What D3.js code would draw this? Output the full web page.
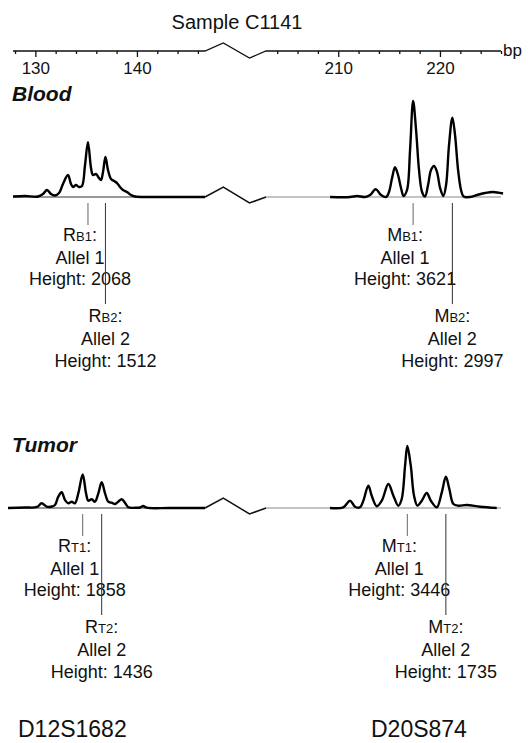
<!DOCTYPE html>
<html>
<head>
<meta charset="utf-8">
<script src="https://cdn.jsdelivr.net/npm/d3@7"></script>
<style>
  body { margin: 0; background: #fff; }
  svg { display: block; }
  text { font-family: "Liberation Sans", Arial, Helvetica, sans-serif; fill: #111; }
</style>
</head>
<body>
<svg id="chart" width="528" height="743"></svg>
<script>
// ---- data -------------------------------------------------------------
const title = "Sample C1141";
const unitLabel = "bp";
const panelNames = ["Blood", "Tumor"];
const locusNames = ["D12S1682", "D20S874"];

// fragment-size axis (bp)
const majorTicks = [130, 140, 210, 220];
const minorTicks = [128, 132, 134, 136, 138, 142, 144, 146,
                    204, 206, 208, 212, 214, 216, 218, 222, 224, 226];

// called alleles: size (bp) and peak height (RFU)
const alleleNames = ["Allel 1", "Allel 2", "Allel 1", "Allel 2"];
const alleleLetters = ["R", "R", "M", "M"];
const bloodTags = ["B1", "B2", "B1", "B2"];
const tumorTags = ["T1", "T2", "T1", "T2"];
const bloodAlleleBp = [135.18, 136.9, 217.36, 221.22];
const bloodAlleleHeight = [2068, 1512, 3621, 2997];
const tumorAlleleBp = [134.66, 136.53, 216.79, 220.58];
const tumorAlleleHeight = [1858, 1436, 3446, 1735];

// electropherogram traces (apex points of called alleles are added from above)
const bloodD12Bp = [127.8, 128.98, 130.26, 130.75, 131.15, 131.54, 131.93, 132.33, 132.72, 133.21,
  133.51, 133.71, 134.0, 134.3, 134.59, 134.89, 135.48, 135.67, 135.97, 136.26, 136.46, 136.66,
  137.15, 137.45, 137.74, 138.04, 138.33, 138.63, 139.02, 139.41, 139.81, 141.28, 144.73, 146.7];
const bloodD12Rfu = [19, 38, 19, 113, 264, 113, 57, 151, 491, 830,
  491, 377, 453, 377, 415, 1208, 1094, 830, 868, 717, 642, 943,
  1019, 679, 604, 528, 377, 264, 189, 75, 19, 0, 0, 0];

const bloodD20Bp = [209.2, 211.16, 211.85, 212.63, 213.13, 213.69, 214.21, 214.7, 214.99,
  215.29, 215.58, 215.88, 216.17, 216.42, 216.76, 217.06, 217.65, 217.94, 218.24, 218.53,
  218.83, 219.12, 219.42, 219.71, 220.01, 220.33, 220.6, 220.89, 221.48, 221.78, 222.07,
  222.32, 222.96, 223.65, 224.43, 225.22, 226.2];
const bloodD20Rfu = [0, 0, 38, 0, 75, 291, 75, 0, 189,
  717, 1121, 830, 340, 38, 264, 1774, 2528, 1019, 189, 19,
  453, 1019, 1170, 943, 340, 38, 453, 1962, 2340, 1019, 264,
  19, 0, 75, 151, 189, 132];

const tumorD12Bp = [127.31, 128.98, 130.16, 130.62, 131.12, 131.64, 131.93, 132.26, 132.59, 132.92,
  133.24, 133.58, 133.9, 134.23, 134.99, 135.21, 135.55, 135.87, 136.2, 136.86, 137.18,
  137.51, 137.84, 138.16, 138.5, 138.82, 139.15, 139.81, 140.3, 140.62, 140.96, 143.25, 146.7];
const tumorD12Rfu = [0, 28, 56, 261, 72, 83, 167, 628, 872, 444,
  261, 350, 261, 817, 817, 406, 483, 350, 817, 817, 350,
  294, 222, 350, 483, 294, 39, 11, 28, 111, 17, 0, 0];

const tumorD20Bp = [209.19, 210.5, 211.16, 211.65, 212.14, 212.47, 212.96, 213.29, 213.79,
  214.28, 214.93, 215.42, 215.91, 216.24, 216.57, 217.13, 217.45, 217.78, 218.21, 218.7,
  219.1, 219.69, 220.18, 220.92, 221.32, 221.81, 222.63, 223.94, 225.58];
const tumorD20Rfu = [0, 39, 406, 72, 39, 406, 1239, 683, 94,
  406, 1333, 683, 128, 500, 2350, 2350, 683, 128, 406, 833,
  406, 39, 872, 1056, 222, 128, 167, 72, 0];

// ---- layout -----------------------------------------------------------
const svg = d3.select("#chart");
const axisY = 51;
const panelBase = [197, 508];          // trace baselines
const pxPerRfu = [0.0265, 0.018];      // vertical gain of each panel

// broken size axis: two windows joined by a break
const x = d3.scaleLinear()
  .domain([127.8, 146.7, 202.9, 225.9])
  .range([13, 205, 266, 500]);
const breakL = x(146.7), breakR = x(202.9);

const yScales = panelBase.map((b, i) =>
  d3.scaleLinear().domain([0, 4000]).range([b, b - 4000 * pxPerRfu[i]]));

function breakPath(y0, up, down) {
  const w = breakR - breakL;
  return [[breakL, y0], [breakL + w * 0.3, y0 - up], [breakL + w * 0.73, y0 + down], [breakR, y0]];
}

// ---- title --------------------------------------------------------------
svg.append("text").attr("x", 237).attr("y", 29)
  .attr("text-anchor", "middle").attr("font-size", 20).text(title);

// ---- top axis -----------------------------------------------------------
const lineGen = d3.line();
svg.append("path")
  .attr("d", lineGen([[x(127.8), axisY], ...breakPath(axisY, 8, 7), [x(226), axisY]]))
  .attr("fill", "none").attr("stroke", "#111").attr("stroke-width", 1.3);

const minorAxis = d3.axisBottom(x).tickValues(minorTicks).tickSize(3).tickFormat("");
const majorAxis = d3.axisBottom(x).tickValues(majorTicks).tickSize(6).tickPadding(5);
[minorAxis, majorAxis].forEach(ax => {
  const g = svg.append("g").attr("transform", `translate(0,${axisY})`).call(ax);
  g.select(".domain").remove();
  g.selectAll(".tick line").attr("stroke", "#111").attr("stroke-width", 1.3);
  g.selectAll(".tick text").attr("font-size", 17).attr("fill", "#111")
    .attr("font-family", "Liberation Sans, Arial, sans-serif");
});
svg.append("text").attr("x", 503).attr("y", 56).attr("font-size", 17).text(unitLabel);

// ---- panels -------------------------------------------------------------
const panels = [
  { name: panelNames[0], tags: bloodTags, abp: bloodAlleleBp, ah: bloodAlleleHeight,
    traces: [[bloodD12Bp, bloodD12Rfu], [bloodD20Bp, bloodD20Rfu]], titleY: 101 },
  { name: panelNames[1], tags: tumorTags, abp: tumorAlleleBp, ah: tumorAlleleHeight,
    traces: [[tumorD12Bp, tumorD12Rfu], [tumorD20Bp, tumorD20Rfu]], titleY: 452 }
];

const trace = d3.line().curve(d3.curveCatmullRom.alpha(0.5));

panels.forEach((p, pi) => {
  const y = yScales[pi];
  const base = panelBase[pi];

  svg.append("text").attr("x", 12).attr("y", p.titleY)
    .attr("font-size", 21).attr("font-weight", "bold").attr("font-style", "italic")
    .text(p.name);

  // thin baselines and the break
  svg.append("line").attr("x1", x(127.8)).attr("x2", breakL).attr("y1", base).attr("y2", base)
    .attr("stroke", "#333").attr("stroke-width", 1);
  svg.append("line").attr("x1", breakR).attr("x2", x(226)).attr("y1", base).attr("y2", base)
    .attr("stroke", "#888").attr("stroke-width", 1.2);
  svg.append("path").attr("d", lineGen(breakPath(base, 10, 6)))
    .attr("fill", "none").attr("stroke", "#111").attr("stroke-width", 1.5);

  // traces, with the called allele apexes merged in
  p.traces.forEach(([bps, rfus], li) => {
    const pts = bps.map((b, i) => [b, rfus[i]]);
    [0, 1].forEach(k => pts.push([p.abp[li * 2 + k], p.ah[li * 2 + k]]));
    pts.sort((a, b) => a[0] - b[0]);
    svg.append("path")
      .attr("d", trace(pts.map(d => [x(d[0]), Math.min(base, y(d[1]))])))
      .attr("fill", "none").attr("stroke", "#000")
      .attr("stroke-width", 2.4).attr("stroke-linejoin", "round");
  });

  // allele markers and labels
  p.abp.forEach((bp, ai) => {
    const second = ai % 2 === 1;
    const mx = x(bp);
    svg.append("line").attr("x1", mx).attr("x2", mx)
      .attr("y1", base + 6).attr("y2", base + (second ? 107 : 28))
      .attr("stroke", second ? "#333" : "#666").attr("stroke-width", 1);

    const cx = mx + (second ? 0 : -8);
    const off = second ? [125, 148, 170] : [44, 67, 88];
    const t = svg.append("text").attr("x", cx).attr("y", base + off[0])
      .attr("text-anchor", "middle").attr("font-size", 18);
    t.append("tspan").text(alleleLetters[ai]);
    t.append("tspan").attr("font-size", 13).text(p.tags[ai]);
    t.append("tspan").text(":");
    svg.append("text").attr("x", cx).attr("y", base + off[1])
      .attr("text-anchor", "middle").attr("font-size", 18).text(alleleNames[ai]);
    svg.append("text").attr("x", cx).attr("y", base + off[2])
      .attr("text-anchor", "middle").attr("font-size", 18)
      .text("Height: " + p.ah[ai]);
  });
});

// ---- locus names ----------------------------------------------------------
[[18, locusNames[0]], [371, locusNames[1]]].forEach(([lx, s]) => {
  svg.append("text").attr("x", lx).attr("y", 737).attr("font-size", 23).text(s);
});
</script>
</body>
</html>
